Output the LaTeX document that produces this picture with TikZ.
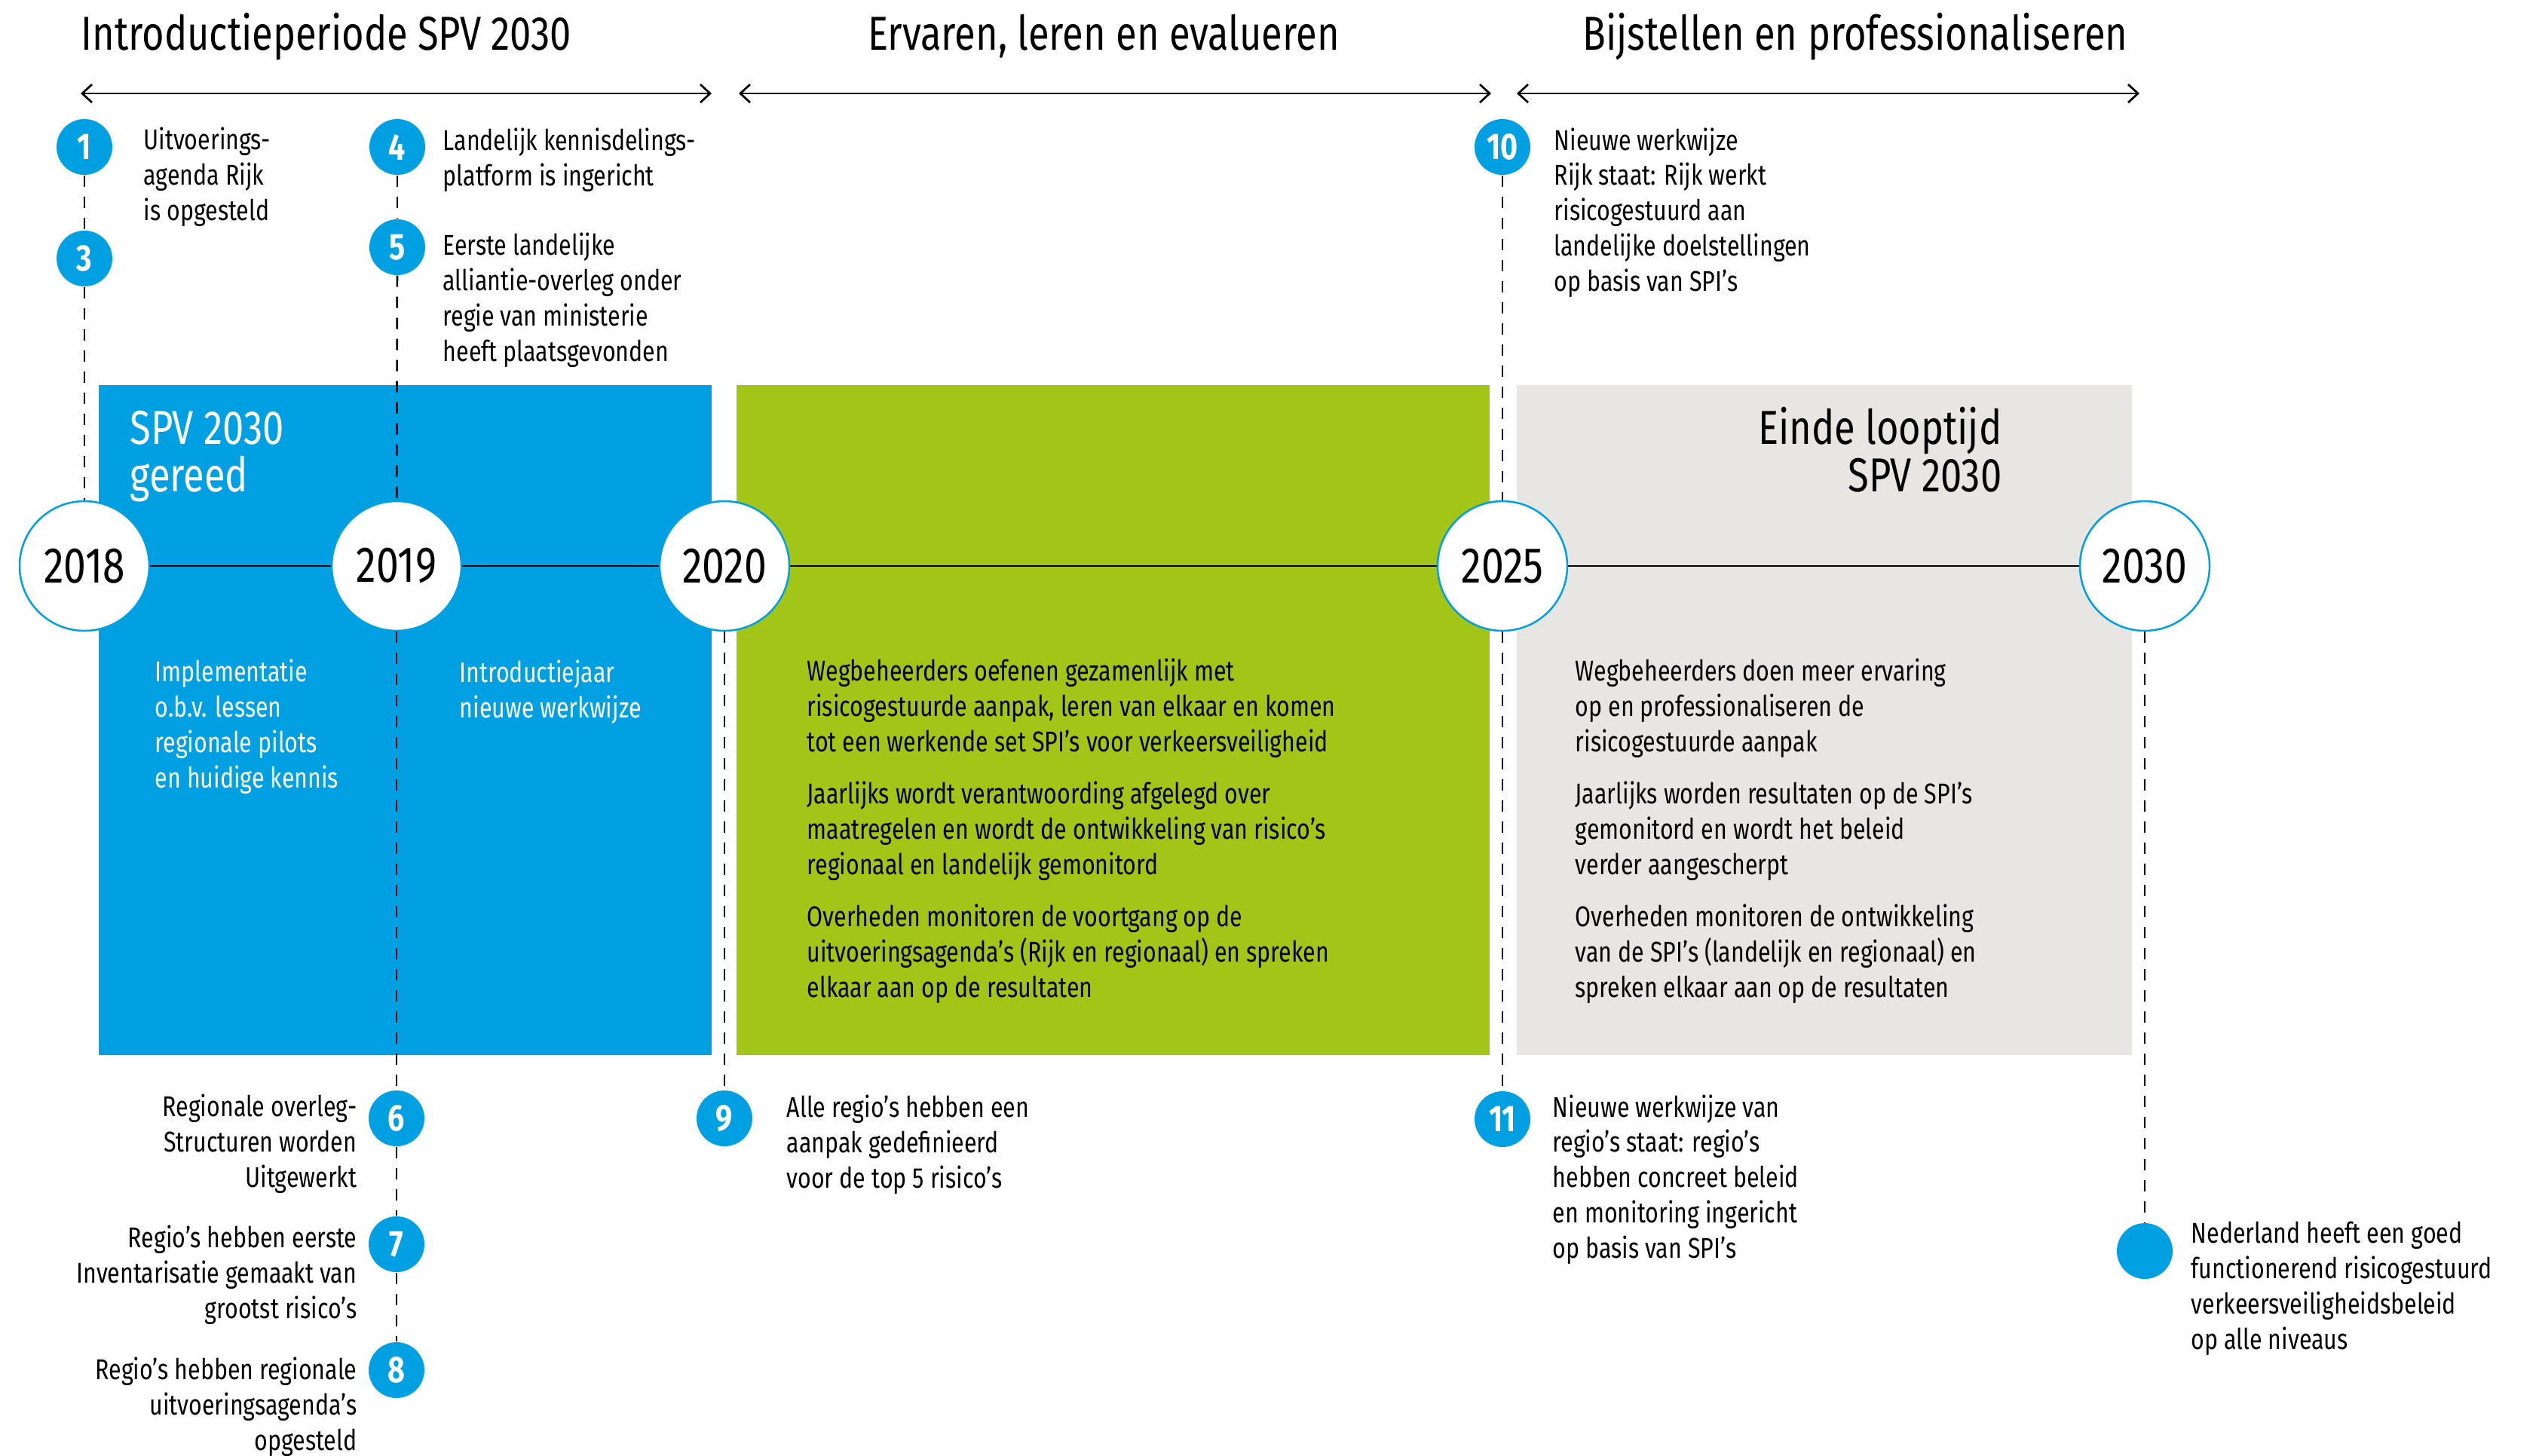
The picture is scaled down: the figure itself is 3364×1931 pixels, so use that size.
\documentclass[tikz,border=0pt]{standalone}
\usepackage{fontspec}
\setmainfont{Fira Sans}[FakeStretch=0.8]
\usetikzlibrary{arrows.meta}

\definecolor{spvblue}{RGB}{0,160,226}
\definecolor{spvgreen}{RGB}{162,197,23}
\definecolor{spvgrey}{RGB}{232,230,226}

\tikzset{
	year/.style={circle, draw=spvblue, line width=0.25mm, fill=white, minimum size=17.2mm, inner sep=0pt, font=\fontsize{19}{22}\selectfont},
	mile/.style={circle, fill=spvblue, minimum size=7.4mm, inner sep=0pt, text=white, font=\bfseries\fontsize{14}{16}\selectfont},
	txt/.style={anchor=base west, align=left, inner sep=0pt, font=\fontsize{10.8}{13.3}\selectfont},
	txtr/.style={txt, anchor=base east, align=right},
	head/.style={anchor=base west, inner sep=0pt, font=\fontsize{18}{17.9}\selectfont},
	dashline/.style={line width=0.27mm, dash pattern=on 1.5mm off 1.3mm},
	phase/.style={line width=0.27mm, {Straight Barb[length=1.3mm,width=2.4mm]}-{Straight Barb[length=1.3mm,width=2.4mm]}},
}

\begin{document}
\begin{tikzpicture}[x=0.1mm, y=-0.1mm]
	\useasboundingbox (0,0) rectangle (3364,1931);

	% phases
	\node[head] (h1) at (107,66) {Introductieperiode SPV 2030};
	\node[head, anchor=base] (h2) at (1464,66) {Ervaren, leren en evalueren};
	\node[head, anchor=base] (h3) at (2461,66) {Bijstellen en professionaliseren};
	\coordinate (a1) at (107,124); \coordinate (b1) at (944,124);
	\coordinate (a2) at (980,124); \coordinate (b2) at (1978,124);
	\coordinate (a3) at (2012,124); \coordinate (b3) at (2838,124);
	\draw[phase] (a1) -- (b1);
	\draw[phase] (a2) -- (b2);
	\draw[phase] (a3) -- (b3);

	% blocks
	\fill[spvblue] (131,511) rectangle (944,1400);
	\fill[spvgreen] (977,511) rectangle (1976,1400);
	\fill[spvgrey] (2012,511) rectangle (2828,1400);

	% years
	\node[year] (y2018) at (112,751) {2018};
	\node[year] (y2019) at (526,751) {2019};
	\node[year] (y2020) at (961,751) {2020};
	\node[year] (y2025) at (1993,751) {2025};
	\node[year] (y2030) at (2845,751) {2030};
	\draw[line width=0.28mm] (y2018) -- (y2019);
	\draw[line width=0.28mm] (y2019) -- (y2020);
	\draw[line width=0.28mm] (y2020) -- (y2025);
	\draw[line width=0.28mm] (y2025) -- (y2030);

	% milestones
	\node[mile] (m1) at (112,195) {1};
	\node[mile] (m3) at (112,343) {3};
	\node[mile] (m4) at (527,195) {4};
	\node[mile] (m5) at (527,328) {5};
	\node[mile] (m6) at (526,1484) {6};
	\node[mile] (m7) at (526,1651) {7};
	\node[mile] (m8) at (526,1818) {8};
	\node[mile] (m9) at (961,1484) {9};
	\node[mile] (m10) at (1993,195) {10};
	\node[mile] (m11) at (1993,1485) {11};
	\node[mile] (mEnd) at (2845,1660) {};

	\draw[dashline] (m1) -- (m3);
	\draw[dashline] (m3) -- (y2018);
	\draw[dashline] (m4) -- (m5);
	\draw[dashline] (m5) -- (y2019);
	\draw[dashline] (y2019) -- (m6);
	\draw[dashline] (m6) -- (m7);
	\draw[dashline] (m7) -- (m8);
	\draw[dashline] (y2020) -- (m9);
	\draw[dashline] (m10) -- (y2025);
	\draw[dashline] (y2025) -- (m11);
	\draw[dashline] (y2030) -- (mEnd);

	% texts at the milestones (placed at the baseline of their last line)
	\node[txt] (t1) at (190,292) {Uitvoerings-\\agenda Rijk\\is opgesteld};
	\node[txt] (t4) at (587,246) {Landelijk kennisdelings-\\platform is ingericht};
	\node[txt] (t5) at (587,479) {Eerste landelijke\\alliantie-overleg onder\\regie van ministerie\\heeft plaatsgevonden};
	\node[txt] (t10) at (2061,386) {Nieuwe werkwijze\\Rijk staat: Rijk werkt\\risicogestuurd aan\\landelijke doelstellingen\\op basis van SPI’s};
	\node[txtr] (t6) at (474,1575) {Regionale overleg-\\Structuren worden\\Uitgewerkt};
	\node[txtr] (t7) at (474,1749) {Regio’s hebben eerste\\Inventarisatie gemaakt van\\grootst risico’s};
	\node[txtr] (t8) at (474,1924) {Regio’s hebben regionale\\uitvoeringsagenda’s\\opgesteld};
	\node[txt] (t9) at (1043,1576) {Alle regio’s hebben een\\aanpak gedefinieerd\\voor de top 5 risico’s};
	\node[txt] (t11) at (2059,1669) {Nieuwe werkwijze van\\regio’s staat: regio’s\\hebben concreet beleid\\en monitoring ingericht\\op basis van SPI’s};
	\node[txt] (tEnd) at (2906,1790) {Nederland heeft een goed\\functionerend risicogestuurd\\verkeersveiligheidsbeleid\\op alle niveaus};

	% texts in the blocks
	\node[head, text=white, align=left] (k1) at (172,652) {SPV 2030\\gereed};
	\node[txt, text=white] (k2) at (205,1045) {Implementatie\\o.b.v. lessen\\regionale pilots\\en huidige kennis};
	\node[txt, text=white] (k3) at (609,952) {Introductiejaar\\nieuwe werkwijze};
	\node[txt] (g1) at (1070,997) {Wegbeheerders oefenen gezamenlijk met\\risicogestuurde aanpak, leren van elkaar en komen\\tot een werkende set SPI’s voor verkeersveiligheid};
	\node[txt] (g2) at (1070,1160) {Jaarlijks wordt verantwoording afgelegd over\\maatregelen en wordt de ontwikkeling van risico’s\\regionaal en landelijk gemonitord};
	\node[txt] (g3) at (1070,1323) {Overheden monitoren de voortgang op de\\uitvoeringsagenda’s (Rijk en regionaal) en spreken\\elkaar aan op de resultaten};
	\node[head, anchor=base east, align=right] (e1) at (2656,652) {Einde looptijd\\SPV 2030};
	\node[txt] (e2) at (2089,997) {Wegbeheerders doen meer ervaring\\op en professionaliseren de\\risicogestuurde aanpak};
	\node[txt] (e3) at (2089,1160) {Jaarlijks worden resultaten op de SPI’s\\gemonitord en wordt het beleid\\verder aangescherpt};
	\node[txt] (e4) at (2089,1323) {Overheden monitoren de ontwikkeling\\van de SPI’s (landelijk en regionaal) en\\spreken elkaar aan op de resultaten};
\end{tikzpicture}
\end{document}
